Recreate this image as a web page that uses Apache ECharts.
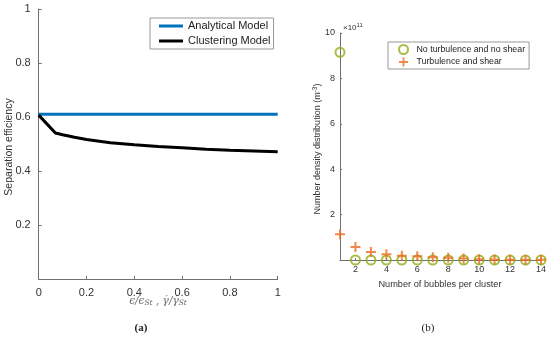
<!DOCTYPE html>
<html><head><meta charset="utf-8">
<script src="https://cdn.jsdelivr.net/npm/echarts@6/dist/echarts.min.js"></script>
<style>html,body{margin:0;padding:0;background:#fff}#c{width:550px;height:342px}</style>
</head><body><div id="c"></div>
<script>
// Panel (a)
const ratioX = [0, 0.07, 0.1, 0.15, 0.2, 0.3, 0.4, 0.5, 0.6, 0.7, 0.8, 0.9, 1];
const analyticalEff = [0.61, 0.61, 0.61, 0.61, 0.61, 0.61, 0.61, 0.61, 0.61, 0.61, 0.61, 0.61, 0.61];
const clusteringEff = [0.607, 0.541, 0.534, 0.525, 0.517, 0.505, 0.497, 0.491, 0.486, 0.481, 0.477, 0.474, 0.471];
const aXTicks = [0, 0.2, 0.4, 0.6, 0.8, 1];
const aYTicks = [0.2, 0.4, 0.6, 0.8, 1];
// Panel (b): values in units of 1e11 m^-3
const bubbles = [1, 2, 3, 4, 5, 6, 7, 8, 9, 10, 11, 12, 13, 14];
const noTurb = [9.15, 0, 0, 0, 0, 0, 0, 0, 0, 0, 0, 0, 0, 0];
const turbShear = [1.13, 0.57, 0.35, 0.25, 0.19, 0.16, 0.12, 0.1, 0.07, 0.03, 0.02, 0.015, 0.01, 0.01];
const bXTicks = [2, 4, 6, 8, 10, 12, 14];
const bYTicks = [2, 4, 6, 8, 10];

const axisCol = '#707070', txtCol = '#333';
const plusPath = 'path://M4,0 H6 V4 H10 V6 H6 V10 H4 V6 H0 V4 H4 Z';
const chart = echarts.init(document.getElementById('c'));
const mkAxis = (o) => Object.assign({
  type: 'value',
  axisLine: {show: true, lineStyle: {color: axisCol, width: 1}},
  splitLine: {show: false}
}, o);
chart.setOption({
  animation: false,
  grid: [
    {left: 38.7, right: 272.3, top: 9, bottom: 63},
    {left: 340, right: 9, top: 33, bottom: 82}
  ],
  xAxis: [
    mkAxis({gridIndex: 0, min: 0, max: 1,
      axisTick: {show: true, inside: true, length: 3, lineStyle: {color: axisCol}, customValues: aXTicks},
      axisLabel: {color: txtCol, fontFamily: 'Liberation Sans, Arial', fontSize: 11, margin: 8, customValues: aXTicks}}),
    mkAxis({gridIndex: 1, min: 1, max: 14,
      axisTick: {show: true, inside: true, length: 2, lineStyle: {color: axisCol}, customValues: bXTicks},
      axisLabel: {color: txtCol, fontFamily: 'Liberation Sans, Arial', fontSize: 9, margin: 5, customValues: bXTicks}})
  ],
  yAxis: [
    mkAxis({gridIndex: 0, min: 0, max: 1,
      axisTick: {show: true, inside: true, length: 3, lineStyle: {color: axisCol}, customValues: aYTicks},
      axisLabel: {color: txtCol, fontFamily: 'Liberation Sans, Arial', fontSize: 11, margin: 8, customValues: aYTicks}}),
    mkAxis({gridIndex: 1, min: 0, max: 10,
      axisTick: {show: true, inside: true, length: 2, lineStyle: {color: axisCol}, customValues: bYTicks},
      axisLabel: {color: txtCol, fontFamily: 'Liberation Sans, Arial', fontSize: 9, margin: 5, customValues: bYTicks}})
  ],
  legend: [
    {show: true, orient: 'vertical', left: 150, top: 18,
     padding: [2, 3, 2, 9], itemGap: 3, itemWidth: 24, itemHeight: 3, icon: 'rect',
     borderColor: '#999', borderWidth: 1, backgroundColor: '#fff',
     textStyle: {color: '#222', fontFamily: 'Liberation Sans, Arial', fontSize: 11, lineHeight: 12},
     data: ['Analytical Model', 'Clustering Model']},
    {show: true, orient: 'vertical', left: 388, top: 42,
     padding: [2, 4, 2, 10], itemGap: 2, itemWidth: 10, itemHeight: 9,
     borderColor: '#999', borderWidth: 1, backgroundColor: '#fff',
     textStyle: {color: '#222', fontFamily: 'Liberation Sans, Arial', fontSize: 8.8, lineHeight: 10, padding: [0, 0, 0, 3]},
     data: ['No turbulence and no shear', 'Turbulence and shear']}
  ],
  series: [
    {name: 'Analytical Model', type: 'line', xAxisIndex: 0, yAxisIndex: 0,
     data: ratioX.map((x, i) => [x, analyticalEff[i]]), showSymbol: false, symbol: 'none',
     lineStyle: {color: '#0072BD', width: 3}, itemStyle: {color: '#0072BD'}},
    {name: 'Clustering Model', type: 'line', xAxisIndex: 0, yAxisIndex: 0,
     data: ratioX.map((x, i) => [x, clusteringEff[i]]), showSymbol: false, symbol: 'none',
     lineStyle: {color: '#000', width: 3}, itemStyle: {color: '#000'}},
    {name: 'No turbulence and no shear', type: 'scatter', xAxisIndex: 1, yAxisIndex: 1, clip: false,
     data: bubbles.map((x, i) => [x, noTurb[i]]), symbol: 'circle', symbolSize: 9,
     itemStyle: {color: 'rgba(255,255,255,0)', borderColor: '#8FAE14', borderWidth: 2}},
    {name: 'Turbulence and shear', type: 'scatter', xAxisIndex: 1, yAxisIndex: 1, clip: false,
     data: bubbles.map((x, i) => [x, turbShear[i]]), symbol: plusPath, symbolSize: 10,
     itemStyle: {color: '#EE6A1E'}}
  ],
  graphic: [
    {type: 'text', x: 9, y: 147, rotation: Math.PI / 2,
     style: {text: 'Separation efficiency', fill: '#333', font: '10.5px Liberation Sans, Arial', align: 'center', verticalAlign: 'middle'}},
    {type: 'text', x: 158, y: 301,
     style: {text: '{i|ϵ/ϵ}{s|St}{i| , γ̇/γ̇}{s|St}', fill: '#666', align: 'center', verticalAlign: 'middle',
       rich: {i: {fontFamily: 'DejaVu Serif', fontStyle: 'italic', fontSize: 10.5, fill: '#666'},
              s: {fontFamily: 'DejaVu Serif', fontStyle: 'italic', fontSize: 7.5, fill: '#666', padding: [5, 0, 0, 0]}}}},
    {type: 'text', x: 141, y: 328,
     style: {text: '(a)', fill: '#222', font: 'bold 11px Liberation Serif, Times New Roman', align: 'center', verticalAlign: 'middle'}},
    {type: 'text', x: 428, y: 328,
     style: {text: '(b)', fill: '#222', font: '11px Liberation Serif, Times New Roman', align: 'center', verticalAlign: 'middle'}},
    {type: 'text', x: 440, y: 284,
     style: {text: 'Number of bubbles per cluster', fill: '#333', font: '9.2px Liberation Sans, Arial', align: 'center', verticalAlign: 'middle'}},
    {type: 'text', x: 318, y: 149, rotation: Math.PI / 2,
     style: {text: '{a|Number density distribution (m}{b|-3}{a|)}', align: 'center', verticalAlign: 'middle',
       rich: {a: {fontFamily: 'Liberation Sans, Arial', fontSize: 9, fill: '#333'},
              b: {fontFamily: 'Liberation Sans, Arial', fontSize: 6.5, fill: '#333', padding: [0, 0, 5, 0]}}}},
    {type: 'text', x: 343, y: 28,
     style: {text: '{a|×10}{b|11}', align: 'left', verticalAlign: 'middle',
       rich: {a: {fontFamily: 'Liberation Sans, Arial', fontSize: 8, fill: '#333'},
              b: {fontFamily: 'Liberation Sans, Arial', fontSize: 6, fill: '#333', padding: [0, 0, 5, 0]}}}}
  ]
});
</script></body></html>
